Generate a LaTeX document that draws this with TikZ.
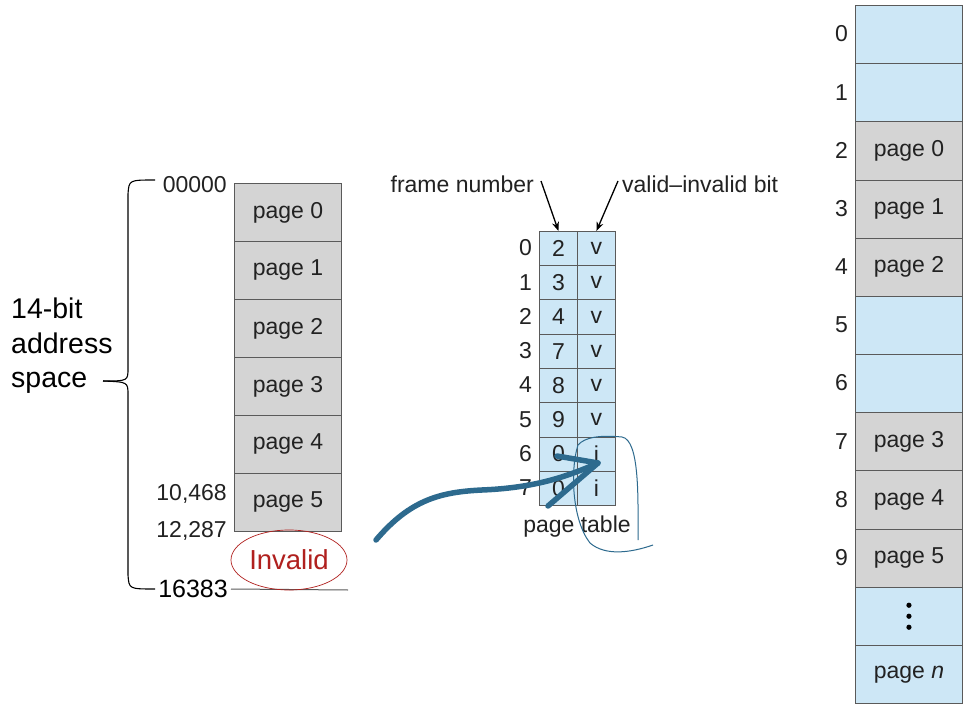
\documentclass[tikz,border=0pt]{standalone}
\usepackage{fontspec}
\setmainfont{Liberation Sans}
\usetikzlibrary{shapes.geometric,arrows.meta,calc}
\definecolor{cellgray}{HTML}{D4D4D4}
\definecolor{cellblue}{HTML}{CDE7F6}
\definecolor{edgec}{HTML}{5A5A5A}
\definecolor{txt}{HTML}{222222}
\definecolor{pen}{HTML}{2D6A8E}
\definecolor{invred}{HTML}{B0201E}
\tikzset{
  cellbox/.style={draw=edgec, line width=0.9pt, inner sep=0pt, anchor=north west, text=txt, font=\fontsize{23}{23}\selectfont},
  graycell/.style={cellbox, fill=cellgray, minimum width=107pt, minimum height=58pt},
  framecell/.style={cellbox, fill=cellgray, minimum width=107pt, minimum height=58.17pt},
  framefree/.style={framecell, fill=cellblue},
  ptcell/.style={cellbox, fill=cellblue, minimum width=38pt, minimum height=34.25pt},
  lbl/.style={text=txt, inner sep=0pt, font=\fontsize{23}{23}\selectfont},
  pointer/.style={-{Stealth[length=9pt,width=7pt]}, line width=1.3pt, draw=black},
}
\begin{document}
\begin{tikzpicture}[x=1pt,y=-1pt]
\useasboundingbox (0,0) rectangle (970,722);
\fill[white] (0,0) rectangle (970,722);
% logical memory
\foreach \i in {0,...,5} {
  \node[graycell] (p\i) at (234,{183+58*\i}) {page \i};
}
\node[lbl, anchor=east] (a0) at (227,185) {00000};
\node[lbl, anchor=east] (a1) at (227,494) {10,468};
\node[lbl, anchor=east] (a2) at (227,531) {12,287};
\node[text=black, inner sep=0pt, anchor=east, font=\fontsize{25}{25}\selectfont] (a3) at (228,589) {16383};
\coordinate (lineend) at (348,590);
\draw[edgec, line width=1pt] (a3.east) ++(3pt,0) -- (lineend);
% brace
\draw[black, line width=1.1pt] (155,180) .. controls (129,180) .. (128,194) -- (128,368) .. controls (128,381) .. (103,381);
\draw[black, line width=1.1pt] (103,381) .. controls (128,382) .. (128,395) -- (128,575) .. controls (129,589) .. (155,589);
\node[text=black, inner sep=0pt, anchor=west, align=left, font=\fontsize{28.5}{34.5}\selectfont] (space) at (11,346) {14-bit\\address\\space};
% invalid
\node[ellipse, draw=invred, line width=0.7pt, minimum width=116pt, minimum height=60pt, inner sep=0pt, text=invred, font=\fontsize{27.5}{27.5}\selectfont] (inv) at (289,560) {Invalid};
% page table
\foreach \f/\b [count=\r from 0] in {2/v,3/v,4/v,7/v,8/v,9/v,0/i,0/i} {
  \node[ptcell] (f\r) at (539,{231+34.25*\r}) {\f};
  \node[ptcell] (b\r) at (577,{231+34.25*\r}) {\b};
  \node[lbl, anchor=east] (r\r) at (532,{248+34.25*\r}) {\r};
}
\node[lbl, anchor=north] (ptl) at (577,516) {page table};
\node[lbl, anchor=east] (fn) at (534,184) {frame number};
\node[lbl, anchor=west] (vib) at (622,184) {valid–invalid bit};
\draw[pointer] (fn.east) ++(7pt,3pt) coordinate (fnp) -- (f0.north);
\draw[pointer] (vib.west) ++(-4pt,3pt) coordinate (vibp) -- (b0.north);
% physical memory
\foreach \k/\t/\s in {0//framefree,1//framefree,2/page 0/framecell,3/page 1/framecell,4/page 2/framecell,5//framefree,6//framefree,7/page 3/framecell,8/page 4/framecell,9/page 5/framecell} {
  \node[\s] (m\k) at (855,{5+58.17*\k}) {\t};
  \node[lbl, anchor=east] (n\k) at (848,{34+58.17*\k}) {\k};
}
\node[framefree] (m10) at (855,{5+58.17*10}) {};
\foreach \d in {-11,0,11} \fill[black] ($(m10.center)+(0,\d)$) circle (2.6pt);
\node[framefree] (m11) at (855,{5+58.17*11}) {page \textit{n}};
% hand-drawn annotation
\coordinate (hs) at (376,540);
\coordinate (ht) at (598,463);
\draw[pen, line width=5.5pt, line cap=round, line join=round] (hs) .. controls (410,500) and (440,492) .. (482,490) .. controls (530,488) and (562,479) .. (ht);
\draw[pen, line width=5.5pt, line cap=round, line join=round] (557,456) -- (ht) -- (548,506);
\draw[pen, line width=1pt] (638,540) .. controls (638,500) and (640,440) .. (622,437) .. controls (600,435) and (585,437) .. (578,445) .. controls (570,470) and (572,520) .. (590,543) .. controls (605,556) and (630,553) .. (653,545);
\end{tikzpicture}
\end{document}
